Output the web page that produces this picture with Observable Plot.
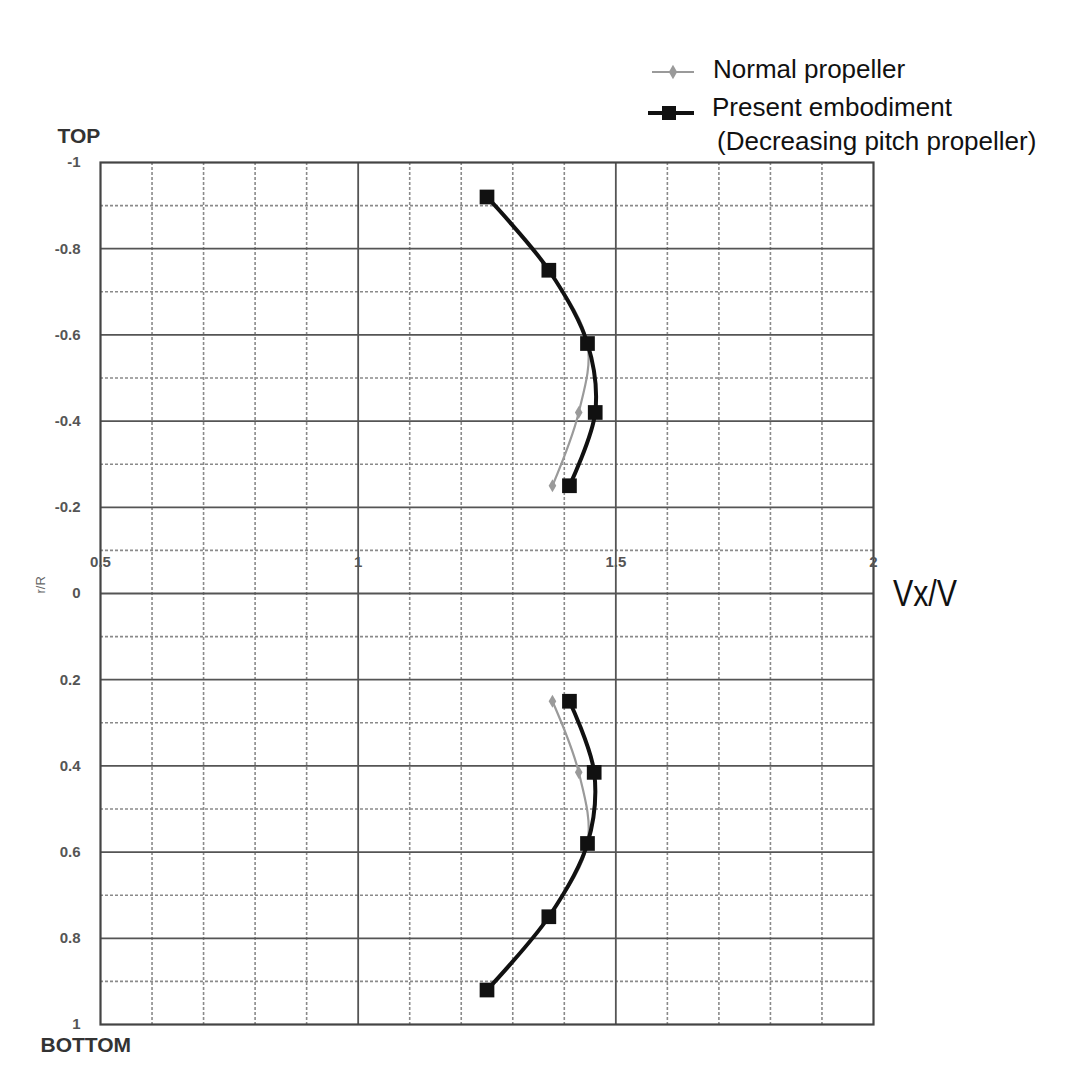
<!DOCTYPE html>
<html>
<head>
<meta charset="utf-8">
<script src="https://cdn.jsdelivr.net/npm/d3@7"></script>
<script src="https://cdn.jsdelivr.net/npm/@observablehq/plot@0.6"></script>
<style>
  html, body { margin: 0; padding: 0; background: #fff; }
  #chart svg { display: block; }
</style>
</head>
<body>
<div id="chart"></div>
<script>
// ---- data ----
const rTop = [-0.92, -0.75, -0.58, -0.42, -0.25];
const rBottom = [0.25, 0.415, 0.58, 0.75, 0.92];
const presentTop = [1.25, 1.37, 1.445, 1.46, 1.41];
const normalTop = [1.25, 1.37, 1.445, 1.428, 1.377];
const presentBottom = [1.41, 1.458, 1.445, 1.37, 1.25];
const normalBottom = [1.377, 1.428, 1.445, 1.37, 1.25];

const yTicks = [-1, -0.8, -0.6, -0.4, -0.2, 0, 0.2, 0.4, 0.6, 0.8, 1];
const yTickLabels = ["-1", "-0.8", "-0.6", "-0.4", "-0.2", "0", "0.2", "0.4", "0.6", "0.8", "1"];
const xTicks = [0.5, 1, 1.5, 2];
const xTickLabels = ["0.5", "1", "1.5", "2"];
const xMinor = [0.6, 0.7, 0.8, 0.9, 1.1, 1.2, 1.3, 1.4, 1.6, 1.7, 1.8, 1.9];
const xMajor = [1, 1.5];
const yMinor = [-0.9, -0.7, -0.5, -0.3, -0.1, 0.1, 0.3, 0.5, 0.7, 0.9];
const yMajor = [-0.8, -0.6, -0.4, -0.2, 0, 0.2, 0.4, 0.6, 0.8];

const seriesNames = ["Normal propeller", "Present embodiment", "(Decreasing pitch propeller)"];

function build(xs, ys, series, half) {
  return xs.map((x, i) => ({x, r: ys[i], series, half}));
}
const normalData = [...build(normalTop, rTop, "normal", "top"), ...build(normalBottom, rBottom, "normal", "bottom")];
const presentData = [...build(presentTop, rTop, "present", "top"), ...build(presentBottom, rBottom, "present", "bottom")];
const normalInner = normalData.filter(d => Math.abs(d.r) < 0.5);

const W = 1072, H = 1075;

const plot = Plot.plot({
  width: W,
  height: H,
  marginLeft: 100,
  marginRight: 199,
  marginTop: 162,
  marginBottom: 51,
  style: {background: "#fff", fontFamily: "Liberation Sans, Arial, sans-serif"},
  x: {domain: [0.5, 2], axis: null},
  y: {domain: [-1, 1], reverse: true, axis: null},
  marks: [
    Plot.ruleX(xMinor, {stroke: "#8a8a8a", strokeWidth: 1.6, strokeDasharray: "3,2"}),
    Plot.ruleY(yMinor, {stroke: "#8a8a8a", strokeWidth: 1.6, strokeDasharray: "3,2"}),
    Plot.ruleX(xMajor, {stroke: "#555", strokeWidth: 1.8}),
    Plot.ruleY(yMajor, {stroke: "#555", strokeWidth: 1.8}),
    Plot.frame({stroke: "#444", strokeWidth: 2.2}),
    Plot.axisY({ticks: yTicks, tickSize: 0, tickPadding: 20, anchor: "left",
      tickFormat: (d) => yTickLabels[yTicks.indexOf(d)], fontSize: 15, fontWeight: "bold", fill: "#555", label: null}),
    Plot.text(xTicks, {x: d => d, y: () => 0, dy: -31, text: (d, i) => xTickLabels[i],
      fontSize: 15, fontWeight: "bold", fill: "#555"}),
    // normal propeller
    Plot.line(normalData, {x: "x", y: "r", z: "half", stroke: "#9a9a9a", strokeWidth: 2.2, curve: "catmull-rom"}),
    Plot.dot(normalInner, {x: "x", y: "r", symbol: "diamond", r: 4, fill: "#9a9a9a"}),
    // present embodiment
    Plot.line(presentData, {x: "x", y: "r", z: "half", stroke: "#111", strokeWidth: 4, curve: "catmull-rom"}),
    Plot.dot(presentData, {x: "x", y: "r", symbol: "square", r: 8.3, fill: "#111"}),
    // annotations
    Plot.text(["TOP"], {frameAnchor: "top-left", dx: -43, dy: -34, textAnchor: "start",
      fontSize: 21, fontWeight: "bold", fill: "#333"}),
    Plot.text(["BOTTOM"], {frameAnchor: "bottom-left", dx: -60, dy: 27, textAnchor: "start",
      fontSize: 21, fontWeight: "bold", fill: "#333"}),
    Plot.text(["r/R"], {frameAnchor: "left", y: () => 0, dx: -60, rotate: -90,
      fontSize: 13, fill: "#666"})
  ]
});

document.getElementById("chart").appendChild(plot);

const svg = d3.select(plot);
const y0 = plot.scale("y").apply(0);

// axis title Vx/V
svg.append("text")
  .attr("x", 893).attr("y", y0).attr("dy", "0.35em")
  .attr("text-anchor", "start")
  .attr("font-family", "Liberation Sans Narrow, Liberation Sans, Arial, sans-serif")
  .attr("font-size", 36).attr("fill", "#111")
  .attr("textLength", 64).attr("lengthAdjust", "spacingAndGlyphs")
  .text("Vx/V");

// legend
const lg = svg.append("g")
  .attr("font-family", "Liberation Sans, Arial, sans-serif")
  .attr("fill", "#111").attr("text-anchor", "start");
// normal swatch
lg.append("line").attr("x1", 652).attr("x2", 694).attr("y1", 72).attr("y2", 72)
  .attr("stroke", "#9a9a9a").attr("stroke-width", 2.2);
lg.append("path").attr("d", d3.symbol(d3.symbolDiamond, 60)()).attr("transform", "translate(673,72)").attr("fill", "#9a9a9a");
// present swatch
lg.append("line").attr("x1", 648).attr("x2", 694).attr("y1", 113).attr("y2", 113)
  .attr("stroke", "#111").attr("stroke-width", 4);
lg.append("rect").attr("x", 662).attr("y", 106).attr("width", 14).attr("height", 14).attr("fill", "#111");

const legendText = [
  {x: 713, y: 69, t: seriesNames[0]},
  {x: 712, y: 107, t: seriesNames[1]},
  {x: 717, y: 141, t: seriesNames[2]}
];
legendText.forEach(d => {
  lg.append("text").attr("x", d.x).attr("y", d.y).attr("dy", "0.35em")
    .attr("font-size", 26)
    .text(d.t);
});
</script>
</body>
</html>
